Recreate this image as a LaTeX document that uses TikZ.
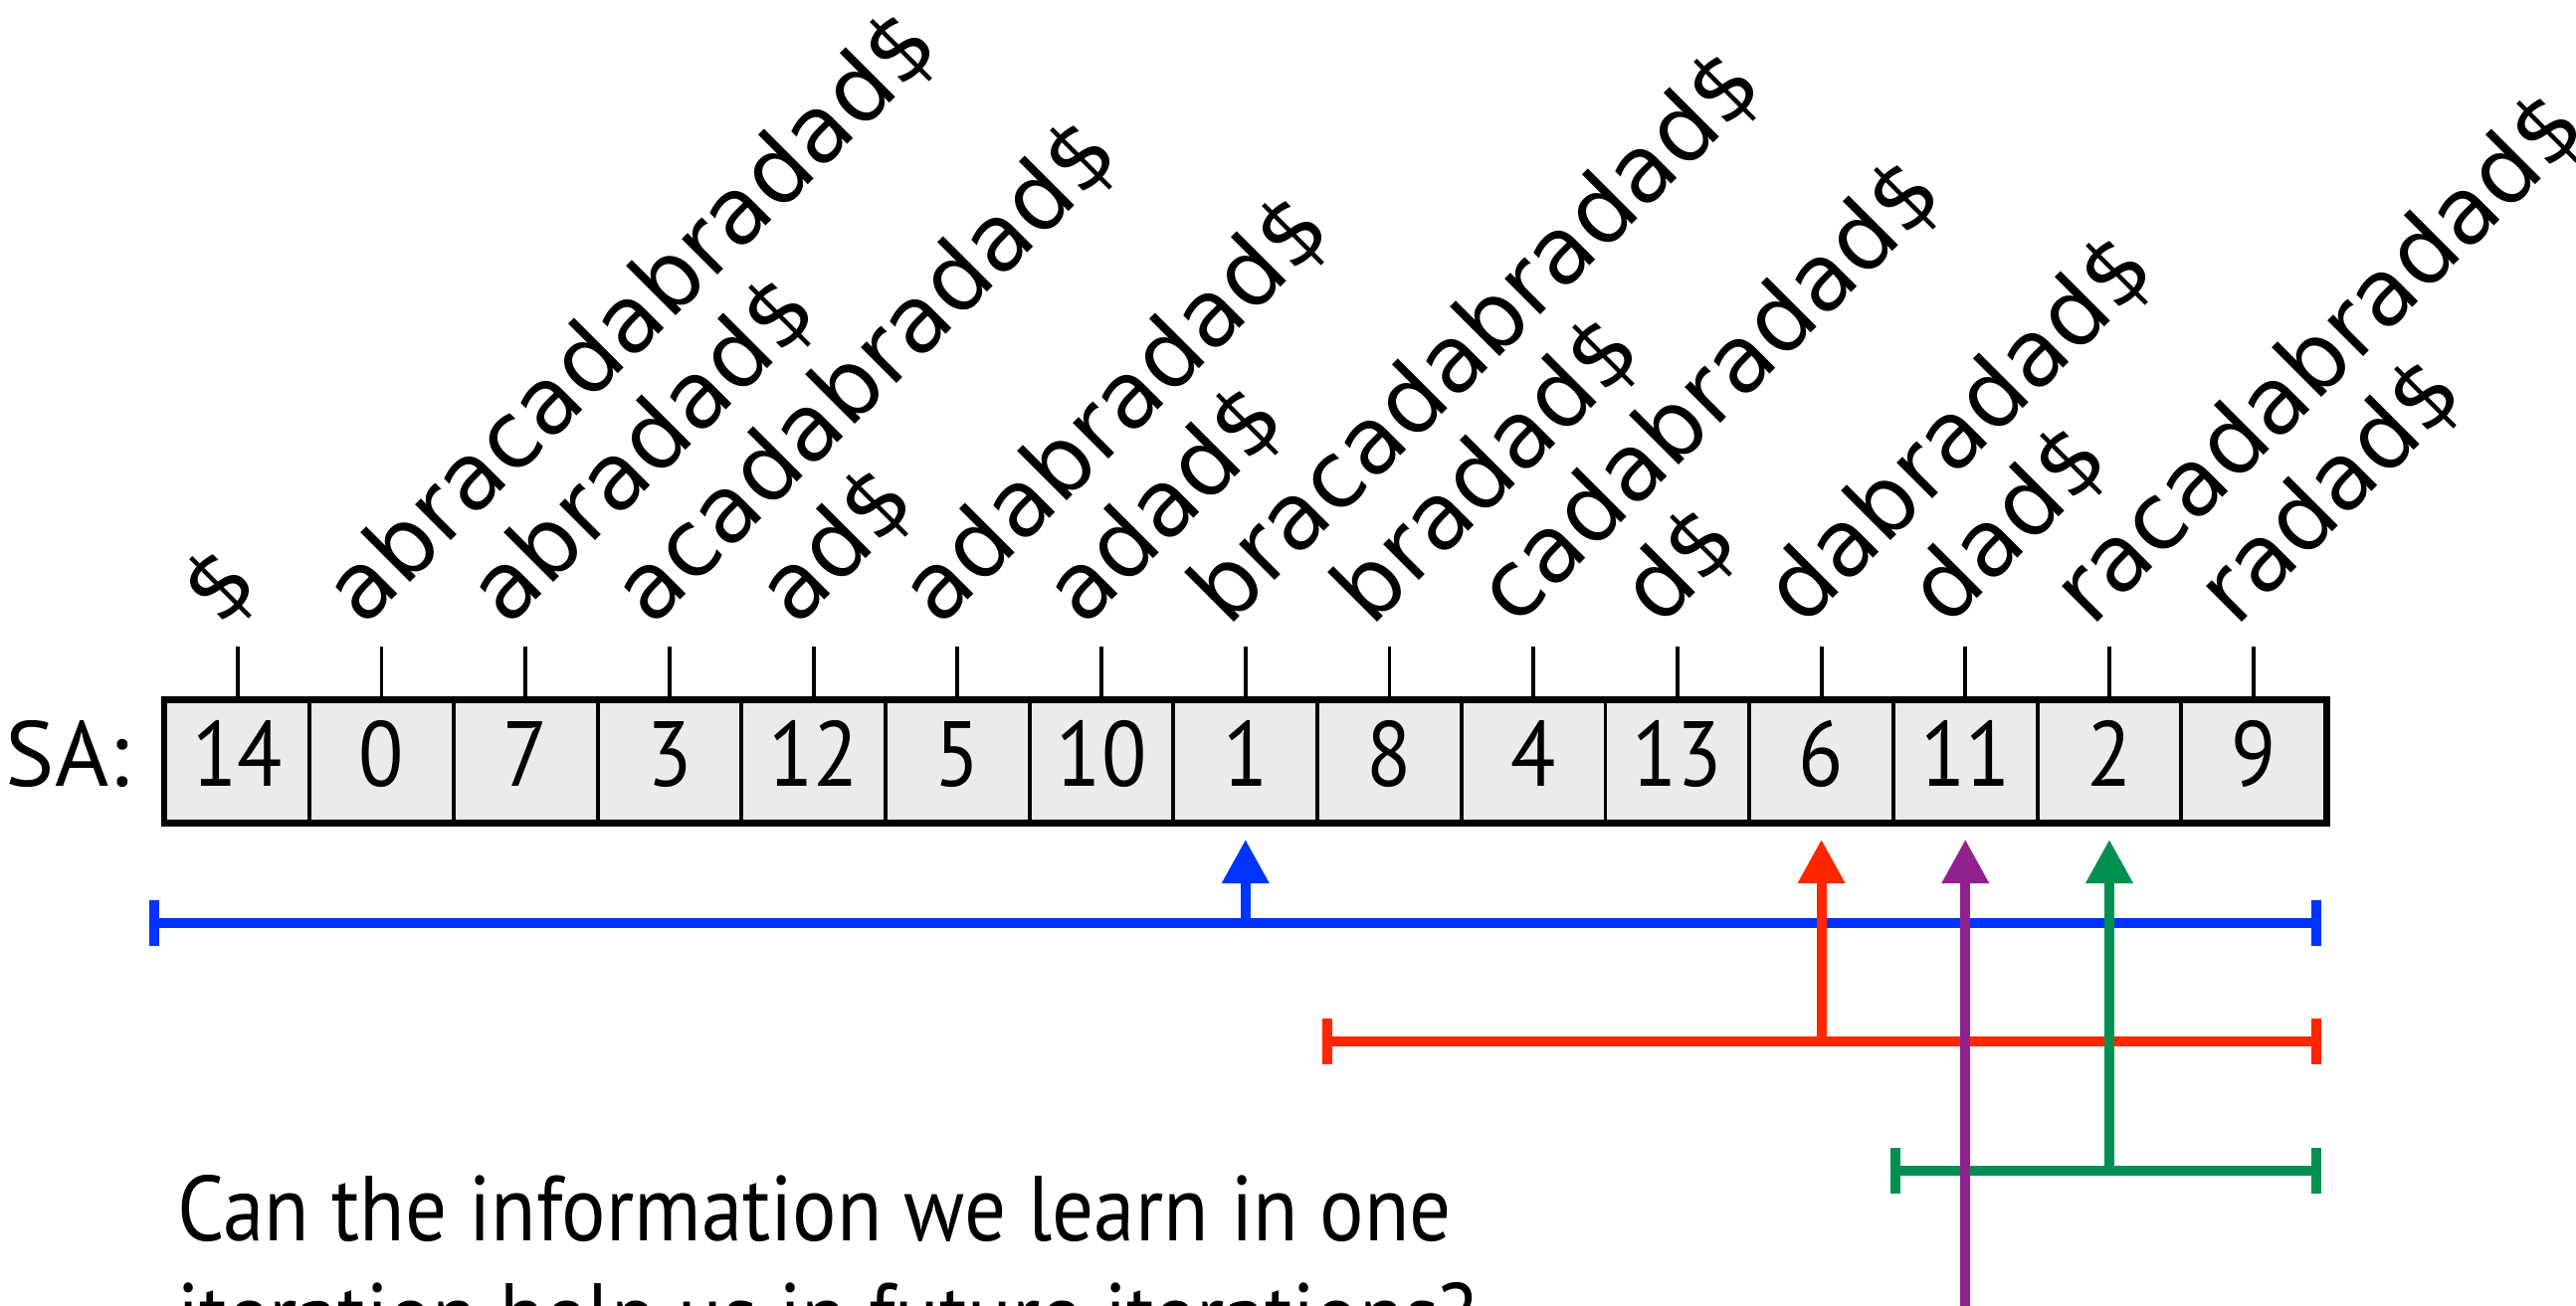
\documentclass[tikz,border=0pt]{standalone}
\usepackage{fontspec}
\setmainfont{PT Sans}
\newfontfamily\narrowfont[FakeStretch=0.895]{PT Sans}
\newfontfamily\suffixfont{DejaVu Sans}
\usetikzlibrary{arrows.meta}

\definecolor{cellgray}{RGB}{235,235,235}
\definecolor{iblue}{RGB}{0,51,255}
\definecolor{ired}{RGB}{255,38,0}
\definecolor{ipurple}{RGB}{145,33,145}
\definecolor{igreen}{RGB}{0,144,81}

\tikzset{
  cell/.style={draw, line width=1.1pt, fill=cellgray, minimum width=1.447cm,
    minimum height=1.21cm, inner sep=0pt, text height=0.68cm, text depth=0.19cm,
    font=\narrowfont\fontsize{26.4}{31}\selectfont},
  sufflabel/.style={rotate=45, anchor=south west, inner sep=0pt,
    font=\suffixfont\fontsize{26.4}{31}\selectfont},
  tickseg/.style={line width=1.1pt},
  interval/.style={line width=2.85pt,
    {Bar[width=0.45cm]}-{Bar[width=0.45cm]}},
  pointer/.style={line width=2.85pt,
    -{Triangle[width=0.45cm,length=0.44cm]}},
  bodytext/.style={inner sep=0pt, align=left,
    font=\narrowfont\fontsize{26.4}{30.5}\selectfont},
}

\begin{document}
\begin{tikzpicture}[x=0.01cm, y=-0.01cm]
\useasboundingbox (0,0) rectangle (2589,1313);
\begin{scope}
\clip (0,0) rectangle (2589,1313);

% suffix array cells, ticks and the suffix each entry points to
\foreach \v/\s [count=\i from 0] in {14/\$, 0/abracadabradad\$, 7/abradad\$,
    3/acadabradad\$, 12/ad\$, 5/adabradad\$, 10/adad\$, 1/bracadabradad\$,
    8/bradad\$, 4/cadabradad\$, 13/d\$, 6/dabradad\$, 11/dad\$,
    2/racadabradad\$, 9/radad\$} {
  \node[cell] (c\i) at ({166.5+144.7*(\i+0.5)},765.5) {\v};
  \coordinate (t\i) at ([yshift=0.53cm]c\i.north);
  \draw[tickseg] (c\i.north) -- (t\i);
  \node[sufflabel] (s\i) at ([xshift=-0.08cm,yshift=0.08cm]t\i) {\s};
}
\draw[line width=1.5pt] (c0.north west) rectangle (c14.south east);

\node[anchor=base east, inner sep=0pt, font=\fontsize{26.4}{31}\selectfont]
  (sa) at ([xshift=-0.34cm]c0.west |- c0.base) {SA:};

% search ranges and their probe positions
\coordinate (bL) at (150,928);  \coordinate (bR) at (2333,928);
\coordinate (rL) at (1329,1047); \coordinate (rR) at (2333,1047);
\coordinate (gL) at (1900,1177); \coordinate (gR) at (2333,1177);
\coordinate (pB) at (1975,1340);

\draw[interval, iblue] (bL) -- (bR);
\draw[pointer, iblue] (c7.south |- bL) -- ([yshift=-0.16cm]c7.south);

\draw[interval, ired] (rL) -- (rR);
\draw[pointer, ired] (c11.south |- rL) -- ([yshift=-0.16cm]c11.south);

\draw[interval, igreen] (gL) -- (gR);
\draw[pointer, igreen] (c13.south |- gL) -- ([yshift=-0.16cm]c13.south);

\draw[pointer, ipurple] (c12.south |- pB) -- ([yshift=-0.16cm]c12.south);

% question text; the node is anchored on the baseline of its last line
\node[bodytext, anchor=base west] (q) at (178,1355)
  {Can the information we learn in one\\iteration help us in future iterations?};
\end{scope}
\end{tikzpicture}
\end{document}
